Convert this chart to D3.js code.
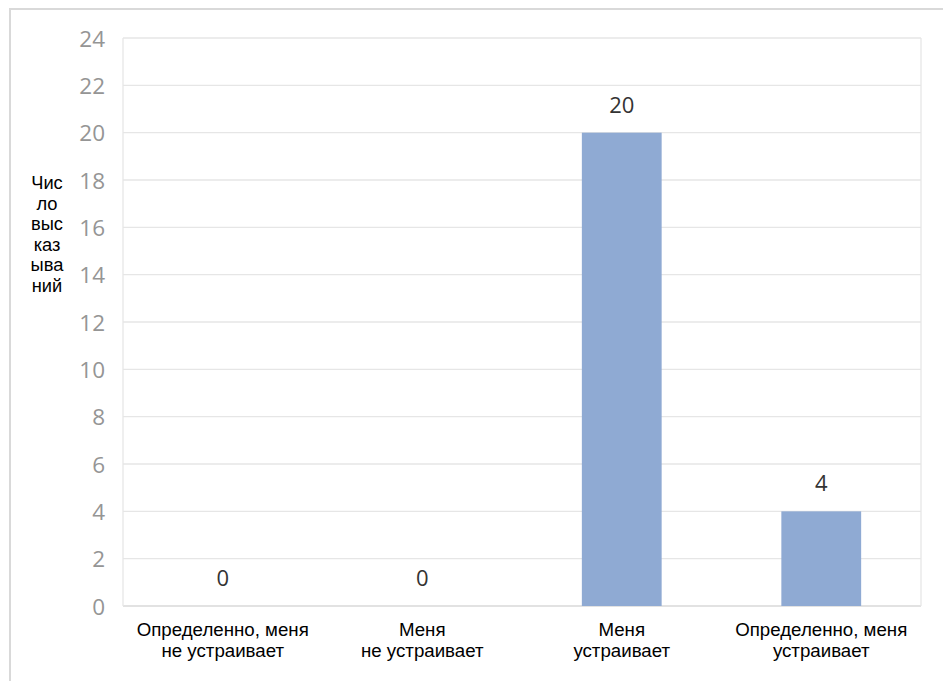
<!DOCTYPE html>
<html><head><meta charset="utf-8">
<script src="https://cdn.jsdelivr.net/npm/d3@7"></script>
<style>body{margin:0;background:#fff;} svg{display:block;}</style>
</head><body>
<svg id="c" width="943" height="681"></svg>
<script>
const categories = [["Определенно, меня","не устраивает"],["Меня","не устраивает"],["Меня","устраивает"],["Определенно, меня","устраивает"]];
const values = [0, 0, 20, 4];
const yTicks = [0,2,4,6,8,10,12,14,16,18,20,22,24];
const yTitle = ["Чис","ло","выс","каз","ыва","ний"];

const svg = d3.select("#c");
const W = 943, H = 681;
const m = {left:123, right:921, top:38, bottom:606};

// outer frame
svg.append("path").attr("d", `M10,${H} L10,9 L${W},9`).attr("fill","none").attr("stroke","#d9d9d9").attr("stroke-width",2);

const x = d3.scaleBand().domain(d3.range(categories.length)).range([m.left, m.right]).paddingInner(0.6).paddingOuter(0.3);
const y = d3.scaleLinear().domain([0,24]).range([m.bottom, m.top]);

// gridlines
svg.append("g").selectAll("line").data(yTicks).join("line")
  .attr("x1", m.left).attr("x2", m.right)
  .attr("y1", d=>y(d)).attr("y2", d=>y(d))
  .attr("stroke", d=> d===0 ? "#d9d9d9" : "#e6e6e6").attr("stroke-width",1.3);
// plot side borders
svg.append("line").attr("x1",m.left).attr("x2",m.left).attr("y1",m.top).attr("y2",m.bottom).attr("stroke","#e6e6e6").attr("stroke-width",1.3);
svg.append("line").attr("x1",m.right).attr("x2",m.right).attr("y1",m.top).attr("y2",m.bottom).attr("stroke","#e6e6e6").attr("stroke-width",1.3);

// y axis labels
const yAxis = d3.axisLeft(y).tickValues(yTicks).tickSize(0).tickPadding(18);
const ga = svg.append("g").attr("transform",`translate(${m.left},0)`).call(yAxis);
ga.select(".domain").remove();
ga.selectAll("text").attr("font-family","'Open Sans', sans-serif").attr("font-size",22.5).attr("fill","#959595").attr("dy","0.36em");

// bars
svg.append("g").selectAll("rect").data(values).join("rect")
  .attr("x",(d,i)=>x(i)).attr("width",x.bandwidth())
  .attr("y",d=>y(d)).attr("height",d=>y(0)-y(d))
  .attr("fill","#8faad3");

// value labels
svg.append("g").selectAll("text").data(values).join("text")
  .attr("x",(d,i)=>x(i)+x.bandwidth()/2).attr("y",d=>y(d)-20)
  .attr("text-anchor","middle").attr("font-family","'Open Sans', sans-serif").attr("font-size",22)
  .attr("fill","#333").text(d=>d);

// x labels
const gx = svg.append("g");
categories.forEach((lines,i)=>{
  const t = gx.append("text").attr("x", x(i)+x.bandwidth()/2).attr("y", 636)
    .attr("text-anchor","middle").attr("font-family","'Liberation Sans', Arial, sans-serif").attr("font-size",18.7).attr("fill","#000");
  lines.forEach((l,j)=> t.append("tspan").attr("x", x(i)+x.bandwidth()/2).attr("dy", j===0?0:20.5).text(l));
});

// y title
const yt = svg.append("text").attr("x",47).attr("y",189).attr("text-anchor","middle")
  .attr("font-family","'Liberation Sans', Arial, sans-serif").attr("font-size",18.3).attr("fill","#000");
yTitle.forEach((l,j)=> yt.append("tspan").attr("x",47).attr("dy", j===0?0:20.6).text(l));
</script>
</body></html>
